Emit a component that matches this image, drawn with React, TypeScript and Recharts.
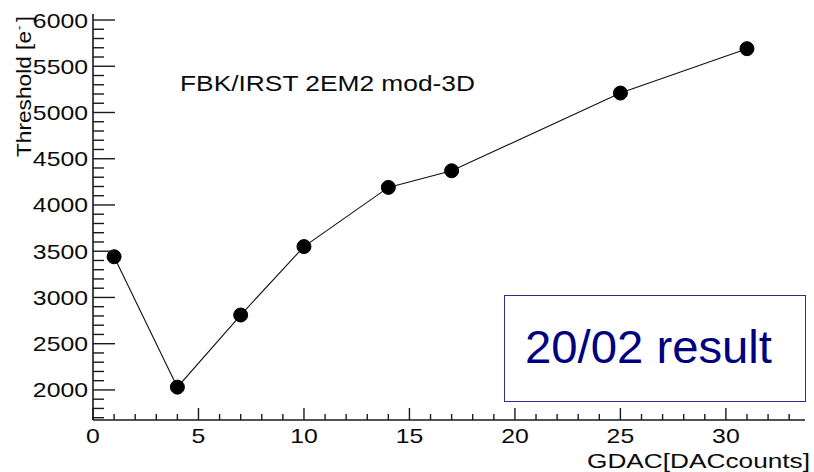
import React from "react"
import { LineChart, Line, XAxis, YAxis } from "recharts"

// GDAC setting vs measured threshold
const gdac = [1, 4, 7, 10, 14, 17, 25, 31]
const threshold = [3440, 2030, 2810, 3550, 4190, 4370, 5210, 5690]

const xMajorTicks = [0, 5, 10, 15, 20, 25, 30]
const yMajorTicks = [2000, 2500, 3000, 3500, 4000, 4500, 5000, 5500, 6000]

const xDomain: [number, number] = [0, 33.75]
const yDomain: [number, number] = [1675, 6065]

const xTicks: number[] = []
for (let v = 0; v <= 33; v++) xTicks.push(v)
const yTicks: number[] = []
for (let v = 1700; v <= 6000; v += 100) yTicks.push(v)

const data = gdac.map((x, i) => ({ x, y: threshold[i] }))

const FONT = "'Liberation Sans', Arial, Helvetica, sans-serif"
const AXIS = "#1a1a1a"
const TEXT = "#0a0a0a"
const TICK_W = 1.4
const STRETCH = 1.18

const labelWidth = (s: string, size: number) => s.length * 0.556 * size * STRETCH

const BottomTick = (props: any) => {
  const { x, y, payload } = props
  const v = payload.value
  const major = xMajorTicks.includes(v)
  return (
    <g>
      <line x1={x} x2={x} y1={y} y2={y - (major ? 12 : 6)} stroke={AXIS} strokeWidth={TICK_W} />
      {major && (
        <text
          x={x}
          y={y + 23}
          textAnchor="middle"
          fontSize={21}
          fontFamily={FONT}
          fill={TEXT}
          textLength={labelWidth(String(v), 21)}
          lengthAdjust="spacingAndGlyphs"
        >
          {v}
        </text>
      )}
    </g>
  )
}

const TopTick = (props: any) => {
  const { x, y, payload } = props
  const major = xMajorTicks.includes(payload.value)
  return <line x1={x} x2={x} y1={y} y2={y + (major ? 13 : 6)} stroke={AXIS} strokeWidth={TICK_W} />
}

const LeftTick = (props: any) => {
  const { x, y, payload } = props
  const v = payload.value
  const major = yMajorTicks.includes(v)
  return (
    <g>
      <line x1={x} x2={x + (major ? 22 : 11)} y1={y} y2={y} stroke={AXIS} strokeWidth={TICK_W} />
      {major && (
        <text
          x={x - 5}
          y={y + 7.5}
          textAnchor="end"
          fontSize={21}
          fontFamily={FONT}
          fill={TEXT}
          textLength={labelWidth(String(v), 21)}
          lengthAdjust="spacingAndGlyphs"
        >
          {v}
        </text>
      )}
    </g>
  )
}

const RightTick = (props: any) => {
  const { x, y, payload } = props
  const major = yMajorTicks.includes(payload.value)
  return <line x1={x} x2={x - (major ? 15 : 6)} y1={y} y2={y} stroke={AXIS} strokeWidth={TICK_W} />
}

export default function App() {
  return (
    <div style={{ position: "absolute", left: 0, top: 0, width: 814, height: 472, background: "#fff" }}>
      <LineChart width={814} height={472} data={data} margin={{ top: 14, right: 9, bottom: 0, left: 0 }}>
        <XAxis
          xAxisId="b"
          dataKey="x"
          type="number"
          domain={xDomain}
          allowDataOverflow
          ticks={xTicks}
          interval={0}
          height={52}
          tickSize={0}
          tickMargin={0}
          tickLine={false}
          axisLine={{ stroke: AXIS, strokeWidth: 1.6 }}
          tick={<BottomTick />}
        />
        <XAxis
          xAxisId="t"
          orientation="top"
          dataKey="x"
          type="number"
          domain={xDomain}
          allowDataOverflow
          ticks={xTicks}
          interval={0}
          height={0}
          tickSize={0}
          tickMargin={0}
          tickLine={false}
          axisLine={{ stroke: AXIS, strokeWidth: 1.6 }}
          tick={<TopTick />}
        />
        <YAxis
          yAxisId="l"
          type="number"
          domain={yDomain}
          allowDataOverflow
          ticks={yTicks}
          interval={0}
          width={93}
          tickSize={0}
          tickMargin={0}
          tickLine={false}
          axisLine={{ stroke: AXIS, strokeWidth: 1.6 }}
          tick={<LeftTick />}
        />
        <YAxis
          yAxisId="r"
          orientation="right"
          type="number"
          domain={yDomain}
          allowDataOverflow
          ticks={yTicks}
          interval={0}
          width={0}
          tickSize={0}
          tickMargin={0}
          tickLine={false}
          axisLine={{ stroke: AXIS, strokeWidth: 1.6 }}
          tick={<RightTick />}
        />
        <Line
          xAxisId="b"
          yAxisId="l"
          dataKey="y"
          stroke="#111"
          strokeWidth={1.1}
          dot={{ r: 7, fill: "#000", stroke: "#000", strokeWidth: 1 }}
          activeDot={false}
          isAnimationActive={false}
        />
      </LineChart>
      <svg
        width={814}
        height={472}
        style={{ position: "absolute", left: 0, top: 0, pointerEvents: "none" }}
      >
        <g transform="translate(31,157) rotate(-90)">
          <text x={0} y={0} fontSize={21} fontFamily={FONT} fill={TEXT} textLength={126} lengthAdjust="spacingAndGlyphs">
            Threshold [e
          </text>
          <text x={127} y={-8} fontSize={13} fontFamily={FONT} fill={TEXT}>
            -
          </text>
          <text x={135} y={0} fontSize={21} fontFamily={FONT} fill={TEXT}>
            ]
          </text>
        </g>
        <text
          x={180}
          y={91}
          fontSize={22}
          fontFamily={FONT}
          fill={TEXT}
          textLength={295}
          lengthAdjust="spacingAndGlyphs"
        >
          FBK/IRST 2EM2 mod-3D
        </text>
        <text
          x={810}
          y={468}
          textAnchor="end"
          fontSize={20}
          fontFamily={FONT}
          fill={TEXT}
          textLength={223}
          lengthAdjust="spacingAndGlyphs"
        >
          GDAC[DACcounts]
        </text>
        <rect x={504.5} y={295.5} width={301} height={106} fill="none" stroke="#2e2e8e" strokeWidth={1} />
        <text x={525} y={363} fontSize={46} fontFamily={FONT} fill="#000080" textLength={247} lengthAdjust="spacingAndGlyphs">
          20/02 result
        </text>
      </svg>
    </div>
  )
}
